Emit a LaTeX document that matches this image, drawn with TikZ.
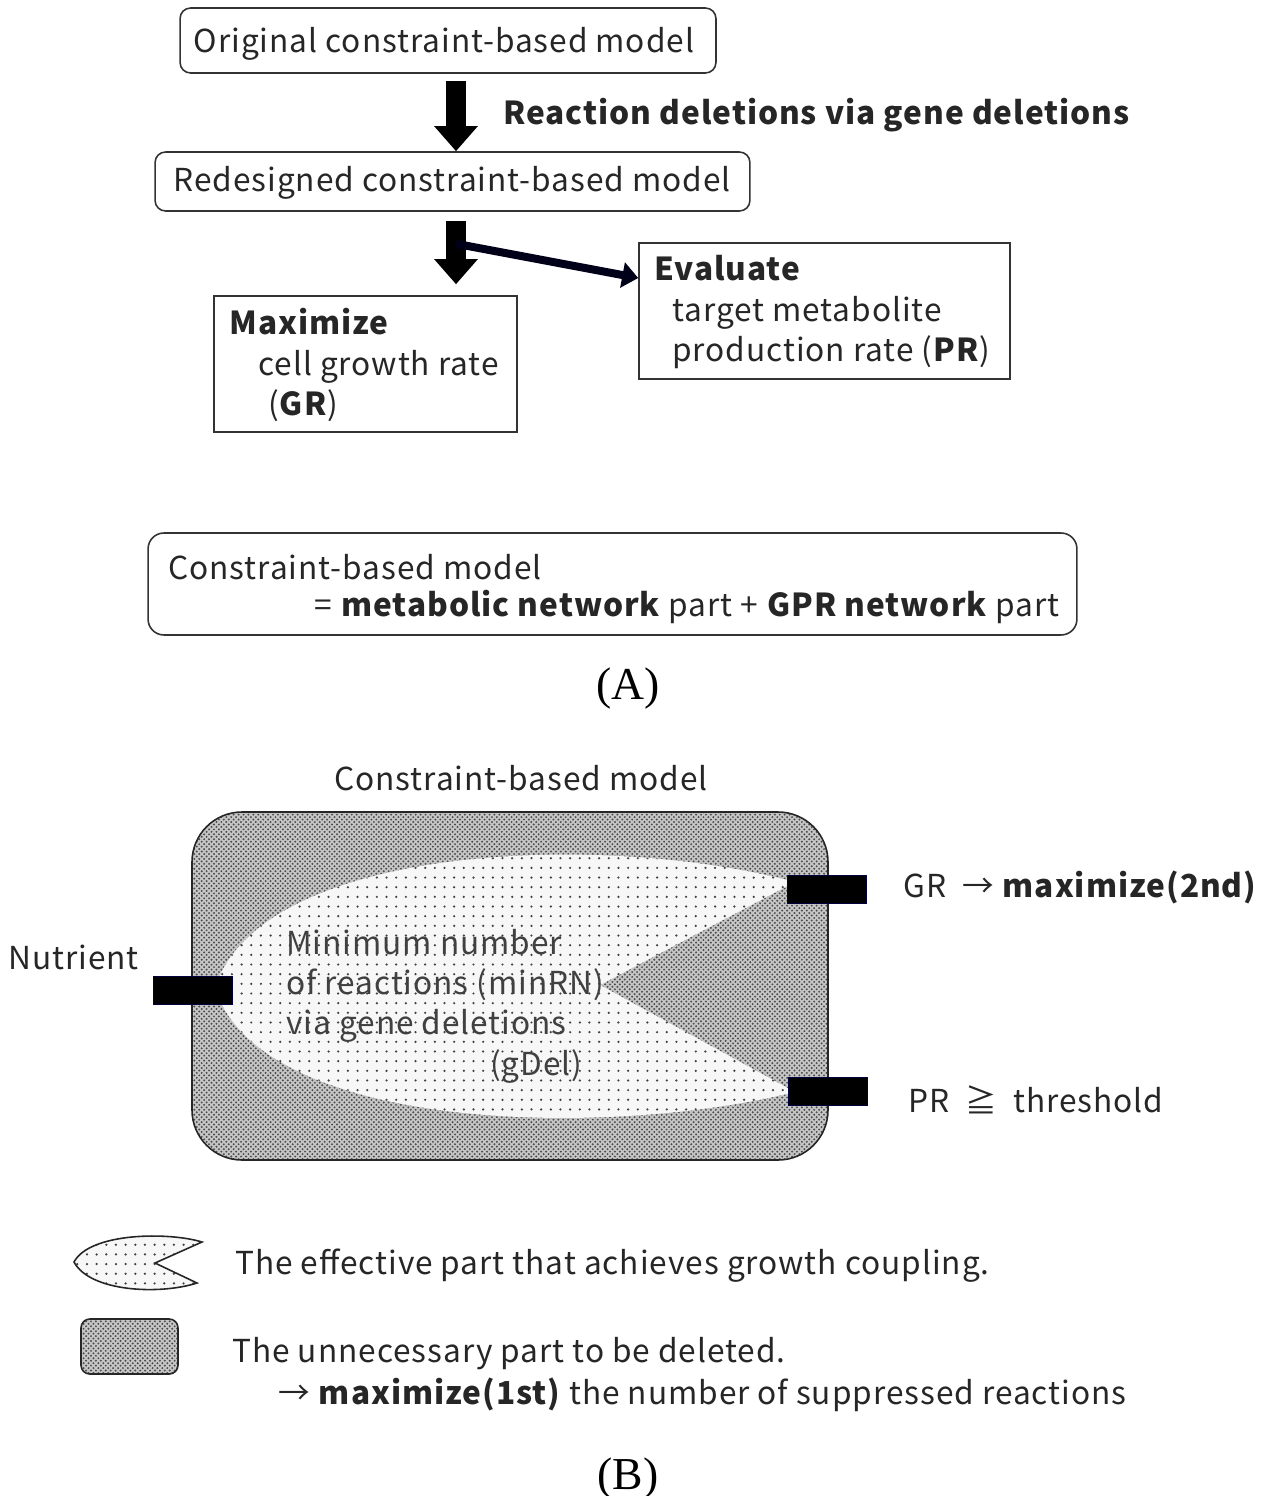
\documentclass[tikz,border=0pt]{standalone}
\usepackage{fontspec}
\setmainfont[LetterSpace=3]{Noto Sans CJK JP}
\newfontfamily\serifA{Liberation Serif}
\usetikzlibrary{arrows.meta,patterns}
\pgfdeclarepatternformonly{sparsedots}{\pgfqpoint{-1pt}{-1pt}}{\pgfqpoint{1pt}{1pt}}{\pgfqpoint{5.5pt}{5.5pt}}{\pgfpathcircle{\pgfpointorigin}{0.7pt}\pgfusepath{fill}}
\pgfdeclarepatternformonly{densedots}{\pgfqpoint{-1pt}{-1pt}}{\pgfqpoint{2pt}{2pt}}{\pgfqpoint{2.8pt}{2.8pt}}{\pgfpathcircle{\pgfpointorigin}{0.62pt}\pgfusepath{fill}\pgfpathcircle{\pgfqpoint{1.4pt}{1.4pt}}{0.62pt}\pgfusepath{fill}}
\newcommand\fs{\fontsize{18}{22.8}\selectfont}
\begin{document}
\begin{tikzpicture}[x=0.02cm,y=-0.02cm,
  box/.style={draw=black!80, line width=0.9pt, inner sep=0},
  rbox/.style={box, rounded corners=6pt},
  txt/.style={inner sep=0, font=\fs, text=black!85},
  bar/.style={fill=black, draw=blue!25!black, line width=0.5pt, minimum width=1.58cm, minimum height=0.56cm, inner sep=0},
  blockarrow/.style={draw=black, line width=0.4cm, -{Triangle[length=0.5cm,width=0.84cm]}},
  thinarrow/.style={draw=black!90!blue, line width=0.16cm, -{Triangle[length=0.32cm,width=0.5cm]}},
  lenstxt/.style={inner sep=0, font=\fs, text=black!75, align=left}
]
\useasboundingbox (0,0) rectangle (1261,1496);

% ---------- (A) ----------
\node[rbox, minimum width=10.72cm, minimum height=1.3cm] (b1) at (448,40.5) {};
\node[txt] (b1t) at (444,44) {Original constraint-based model};
\node[rbox, minimum width=11.9cm, minimum height=1.18cm] (b2) at (452.5,181.5) {};
\node[txt] (b2t) at (452,183) {Redesigned constraint-based model};
\node[box, minimum width=7.42cm, minimum height=2.72cm] (ev) at (824.5,311) {};
\node[box, minimum width=6.06cm, minimum height=2.72cm] (mx) at (365.5,364) {};

\node[txt, anchor=west] (lab1) at (503,115) {\textbf{Reaction deletions via gene deletions}};

\node[txt, anchor=west, align=left] (evt) at (654,312) {\textbf{Evaluate}\\\hspace*{0.36cm}target metabolite\\\hspace*{0.36cm}production rate (\textbf{PR})};
\node[txt, anchor=west, align=left] (mxt) at (229,365) {\textbf{Maximize}\\\hspace*{0.58cm}cell growth rate\\\hspace*{0.78cm}(\textbf{GR})};

\coordinate (a1s) at ([xshift=0.16cm,yshift=-0.14cm]b1.south);
\draw[blockarrow] (a1s) -- (a1s |- b2.north);
\coordinate (a2s) at ([xshift=0.07cm,yshift=-0.18cm]b2.south);
\draw[blockarrow] (a2s) -- ([yshift=0.22cm]a2s |- mx.north);
\draw[thinarrow] ([yshift=-0.46cm]a2s) -- ([yshift=0.66cm]ev.west);

\node[rbox, rounded corners=9pt, minimum width=18.58cm, minimum height=2.04cm] (cb) at (612.5,584) {};
\node[txt, anchor=west] (cb1) at (168,567) {Constraint-based model};
\node[txt, anchor=east] (cb2) at (1060,607) {=\ \textbf{metabolic network} part\ +\ \textbf{GPR network} part};

\node[inner sep=0, font=\serifA\fontsize{26}{30}\selectfont] (A) at (628,689) {(A)};

% ---------- (B) ----------
\node[txt] (cbm) at (521,778) {Constraint-based model};

\path[fill=gray!45] (192,812) [rounded corners=1cm] rectangle (828,1160);
\path[pattern=densedots, pattern color=black!70] (192,812) [rounded corners=1cm] rectangle (828,1160);
\draw[line width=0.9pt, black!85] (192,812) [rounded corners=1cm] rectangle (828,1160);

\path[fill=white!94!gray] (215,988) .. controls (260,845) and (600,830) .. (795,882) -- (600,985) -- (795,1092) .. controls (600,1140) and (260,1130) .. (215,988) -- cycle;
\path[pattern=sparsedots, pattern color=black!75] (215,988) .. controls (260,845) and (600,830) .. (795,882) -- (600,985) -- (795,1092) .. controls (600,1140) and (260,1130) .. (215,988) -- cycle;

\node[lenstxt, anchor=west] (lt) at (286,986) {Minimum number\\of reactions (minRN)\\via gene deletions};
\node[lenstxt, anchor=west] (lt2) at (490,1067) {(gDel)};

\node[bar] (nut) at (192.5,990) {};
\node[bar] (grb) at (826.5,889) {};
\node[bar] (prb) at (828,1091) {};

\node[txt, anchor=west] (nutt) at (8,957) {Nutrient};
\node[txt, anchor=west] (grt) at (903,887) {GR\ \ →\ \textbf{maximize(2nd)}};
\node[txt, anchor=west] (prt) at (908,1100) {PR\ \ ≧\ \ threshold};

% legend
\path[fill=white!94!gray] (74,1262) .. controls (90,1232) and (170,1232) .. (202,1242) -- (155,1263) -- (197,1283) .. controls (160,1295) and (90,1292) .. (74,1262) -- cycle;
\path[pattern=sparsedots, pattern color=black!75] (74,1262) .. controls (90,1232) and (170,1232) .. (202,1242) -- (155,1263) -- (197,1283) .. controls (160,1295) and (90,1292) .. (74,1262) -- cycle;
\draw[line width=0.9pt, black!85] (74,1262) .. controls (90,1232) and (170,1232) .. (202,1242) -- (155,1263) -- (197,1283) .. controls (160,1295) and (90,1292) .. (74,1262) -- cycle;

\path[fill=gray!45] (81,1319) [rounded corners=5pt] rectangle (178,1374);
\path[pattern=densedots, pattern color=black!70] (81,1319) [rounded corners=5pt] rectangle (178,1374);
\draw[line width=0.9pt, black!85] (81,1319) [rounded corners=5pt] rectangle (178,1374);

\node[txt, anchor=west] (lg1) at (235,1266) {The effective part that achieves growth coupling.};
\node[txt, anchor=west] (lg2) at (232,1354) {The unnecessary part to be deleted.};
\node[txt, anchor=west] (lg3) at (278,1395) {→ \textbf{maximize(1st)} the number of suppressed reactions};

\node[inner sep=0, font=\serifA\fontsize{26}{30}\selectfont] (B) at (628,1478) {(B)};
\end{tikzpicture}
\end{document}
